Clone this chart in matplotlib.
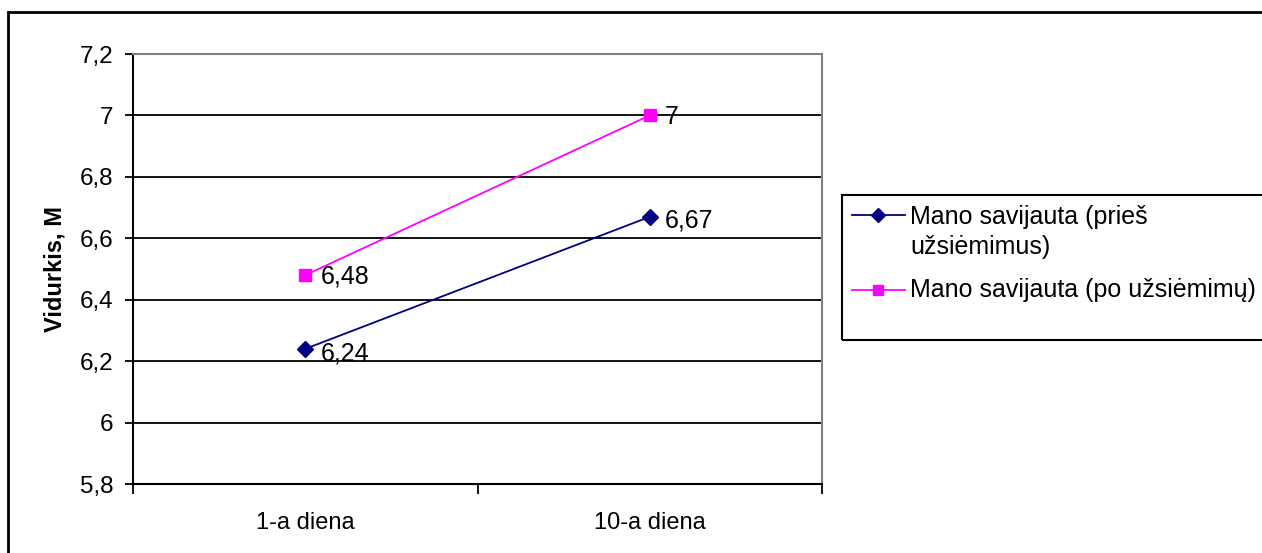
import matplotlib.pyplot as plt
from matplotlib.patches import Rectangle
from matplotlib.lines import Line2D

plt.rcParams['font.family'] = ['Liberation Sans', 'DejaVu Sans']

categories = ["1-a diena", "10-a diena"]
before = [6.24, 6.67]
after = [6.48, 7.0]
before_labels = ["6,24", "6,67"]
after_labels = ["6,48", "7"]
yticks = [5.8, 6.0, 6.2, 6.4, 6.6, 6.8, 7.0, 7.2]
ytick_labels = ["5,8", "6", "6,2", "6,4", "6,6", "6,8", "7", "7,2"]
legend_labels = ["Mano savijauta (prieš\nužsiėmimus)", "Mano savijauta (po užsiėmimų)"]

NAVY = "#000080"
MAGENTA = "#FF00FF"

W, H = 1262, 553
fig = plt.figure(figsize=(W / 100, H / 100), dpi=100)
ax = fig.add_axes([133 / W, 1 - 484 / H, (822 - 133) / W, (484 - 54) / H])

# outer chart frame
fig.patches.append(Rectangle((8 / W, -0.1), 1.2, 1 - 12 / H + 0.1, transform=fig.transFigure,
                             fill=False, edgecolor="black", linewidth=2))

x = [0.5, 1.5]
for v in yticks[1:-1]:
    ax.axhline(v, color="black", linewidth=1.3, zorder=1)

ax.plot(x, before, color=NAVY, marker="D", markersize=8, linewidth=1.3, zorder=3)
ax.plot(x, after, color=MAGENTA, marker="s", markersize=8, linewidth=1.3, zorder=3)

for xi, v, t in zip(x, before, before_labels):
    ax.annotate(t, (xi, v), xytext=(11, -3), textcoords="offset points",
                va="center", ha="left", fontsize=18)
for xi, v, t in zip(x, after, after_labels):
    ax.annotate(t, (xi, v), xytext=(11, -1), textcoords="offset points",
                va="center", ha="left", fontsize=18)

ax.set_xlim(0, 2)
ax.set_ylim(5.8, 7.2)
ax.set_yticks(yticks)
ax.set_yticklabels(ytick_labels, fontsize=17.5)
ax.set_xticks([0, 1, 2])
ax.set_xticklabels(["", "", ""])
ax.set_xticks(x, minor=True)
ax.set_xticklabels(categories, minor=True, fontsize=17)
ax.tick_params(axis="x", which="minor", length=0, pad=20)
ax.tick_params(axis="x", which="major", length=7, width=1.3, direction="out")
ax.tick_params(axis="y", length=6, width=1.3, direction="out", pad=8)

for s in ["left", "bottom"]:
    ax.spines[s].set_color("black")
    ax.spines[s].set_linewidth(1.5)
for s in ["top", "right"]:
    ax.spines[s].set_color("#808080")
    ax.spines[s].set_linewidth(1.5)

ax.set_ylabel("Vidurkis, M", fontsize=17, fontweight="bold", labelpad=10)

# legend box drawn by hand
fig.patches.append(Rectangle((842 / W, 1 - 340 / H), 0.5, (340 - 195) / H, transform=fig.transFigure,
                             fill=False, edgecolor="black", linewidth=1.5))
entries = [(215, 232, NAVY, "D", 7.5), (290, 290, MAGENTA, "s", 7.5)]
for (ly, ty, col, mk, ms), lab in zip(entries, legend_labels):
    yy = 1 - ly / H
    fig.add_artist(Line2D([852 / W, 905 / W], [yy, yy], color=col, linewidth=1.3,
                          transform=fig.transFigure))
    fig.add_artist(Line2D([878 / W], [yy], color=col, marker=mk, markersize=ms,
                          linestyle="none", transform=fig.transFigure))
    fig.text(910 / W, 1 - ty / H, lab, fontsize=18, va="center", ha="left",
             linespacing=1.35)

fig.savefig("out.png", dpi=100)
